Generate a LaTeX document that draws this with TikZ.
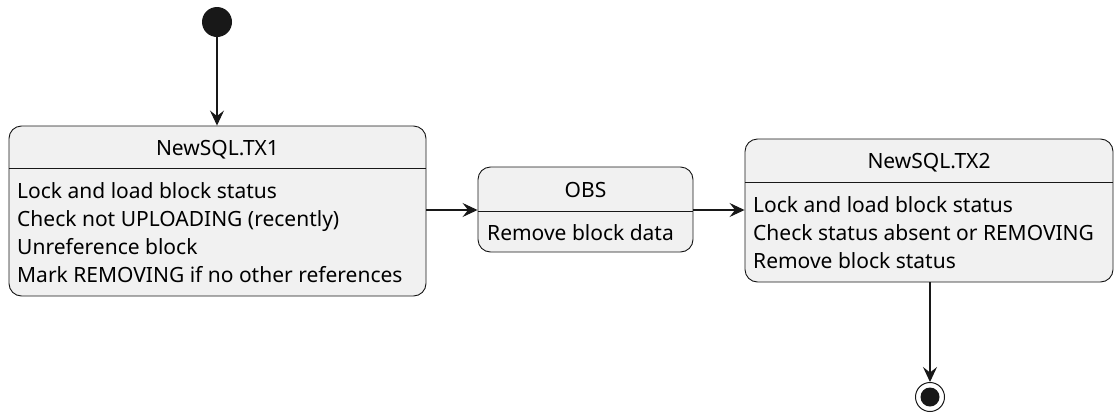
\documentclass[tikz,border=0pt]{standalone}
\usepackage{fontspec}
\setmainfont{Noto Sans}
\usetikzlibrary{arrows.meta}
\definecolor{statefill}{HTML}{F1F1F1}
\definecolor{stateline}{HTML}{181818}
\tikzset{
  statebox/.style={draw=stateline, fill=statefill, line width=0.9pt, rounded corners=12.5pt, inner sep=0pt},
  sepline/.style={draw=stateline, line width=0.9pt},
  txt/.style={inner sep=0pt, anchor=base west, font=\fontsize{21}{25}\selectfont, text=black},
  ttl/.style={inner sep=0pt, anchor=base, font=\fontsize{21}{25}\selectfont, text=black},
  arr/.style={draw=stateline, line width=1.1pt, -{Stealth[length=15pt, width=14pt, inset=5.5pt]}},
  initdot/.style={circle, fill=stateline, minimum size=30pt, inner sep=0pt},
}
\begin{document}
\begin{tikzpicture}[x=1pt, y=-1pt]
\useasboundingbox (0,0) rectangle (1114,413);

% initial pseudo-state
\node[initdot] (start) at (217,22) {};

% NewSQL.TX1
\node[statebox, minimum width=417pt, minimum height=170pt] (tx1) at (217.5,211) {};
\draw[sepline] (9,168) -- (426,168);
\node[ttl] (tx1t) at (217.5,155) {NewSQL.TX1};
\node[txt] (tx1a) at (17,198) {Lock and load block status};
\node[txt] (tx1b) at (17,226) {Check not UPLOADING (recently)};
\node[txt] (tx1c) at (17,254) {Unreference block};
\node[txt] (tx1d) at (17,282) {Mark REMOVING if no other references};

% OBS
\node[statebox, minimum width=215pt, minimum height=85pt] (obs) at (585.5,209.5) {};
\draw[sepline] (478,211) -- (693,211);
\node[ttl] (obst) at (585.5,197) {OBS};
\node[txt] (obsa) at (487,240) {Remove block data};

% NewSQL.TX2
\node[statebox, minimum width=368pt, minimum height=143pt] (tx2) at (929,210.5) {};
\draw[sepline] (745,182) -- (1113,182);
\node[ttl] (tx2t) at (929,168) {NewSQL.TX2};
\node[txt] (tx2a) at (753,212) {Lock and load block status};
\node[txt] (tx2b) at (753,240) {Check status absent or REMOVING};
\node[txt] (tx2c) at (753,268) {Remove block status};

% final pseudo-state
\node[circle, draw=stateline, line width=1pt, fill=white, minimum size=29pt, inner sep=0pt] (stop) at (930,397) {};
\node[circle, fill=stateline, minimum size=19pt, inner sep=0pt] (stopdot) at (stop) {};

% transitions
\draw[arr] (start) -- (start |- tx1.north);
\draw[arr] (tx1.east |- 0,210) -- (obs.west |- 0,210);
\draw[arr] (obs.east |- 0,210) -- (tx2.west |- 0,210);
\draw[arr] (stop |- tx2.south) -- (stop.north);
\end{tikzpicture}
\end{document}
